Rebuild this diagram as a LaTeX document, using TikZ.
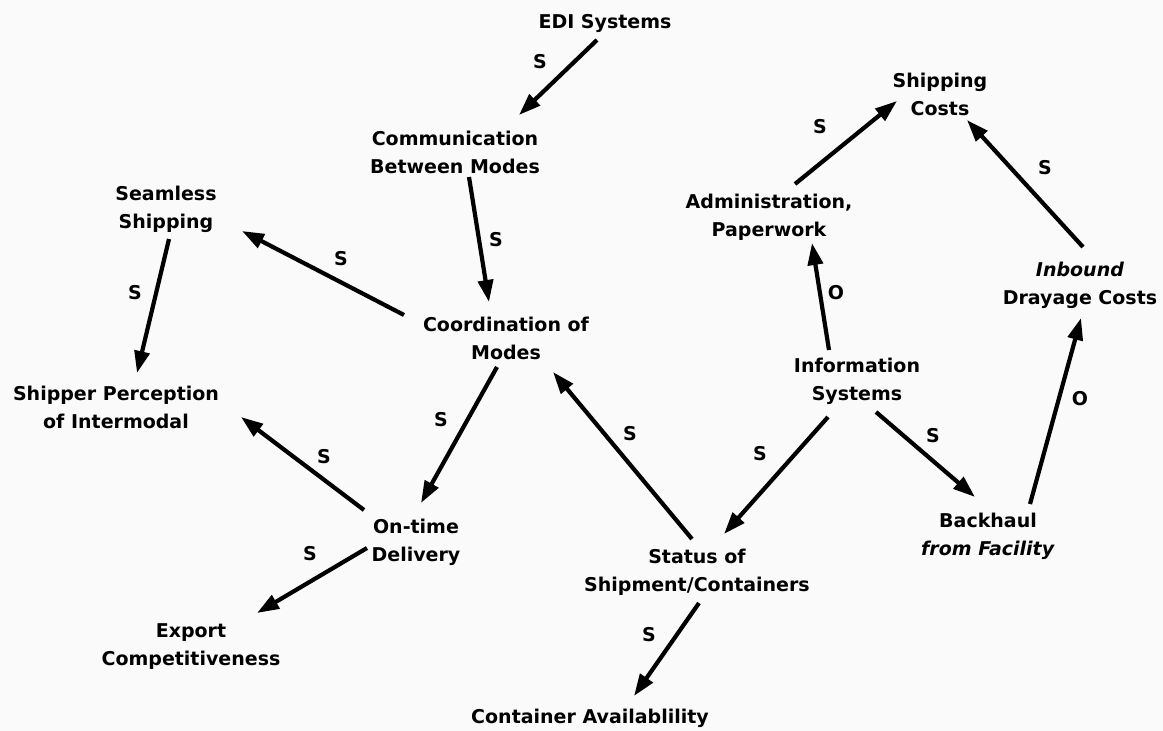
\documentclass[tikz,border=0pt]{standalone}
\usepackage{fontspec}
\setmainfont{DejaVu Sans}
\usetikzlibrary{arrows.meta}
\begin{document}
\begin{tikzpicture}[x=1pt,y=-1pt,
  concept/.style={font=\bfseries\fontsize{19}{28}\selectfont, align=center, inner sep=0pt},
  sign/.style={font=\bfseries\fontsize{19}{22}\selectfont, inner sep=0pt},
  link/.style={line width=4.2pt, -{Triangle[length=22pt,width=15pt]}}]
% page
\fill[black!2] (0,0) rectangle (1163,731);
\useasboundingbox (0,0) rectangle (1163,731);

% concepts
\node[concept] (edi)    at (605,23)  {EDI Systems};
\node[concept] (comm)   at (455,152) {Communication\\Between Modes};
\node[concept] (seam)   at (166,209) {Seamless\\Shipping};
\node[concept] (coord)  at (506,338) {Coordination of\\Modes};
\node[concept] (ship)   at (116,407) {Shipper Perception\\of Intermodal};
\node[concept] (ontime) at (416,542) {On-time\\Delivery};
\node[concept] (export) at (191,647) {Export\\Competitiveness};
\node[concept] (cont)   at (590,718) {Container Availablility};
\node[concept] (status) at (697,572) {Status of\\Shipment/Containers};
\node[concept] (info)   at (857,381) {Information\\Systems};
\node[concept] (back)   at (988,536) {Backhaul\\\textit{from Facility}};
\node[concept] (inb)    at (1080,285) {\textit{Inbound}\\Drayage Costs};
\node[concept] (scost)  at (940,94)  {Shipping\\Costs};
\node[concept] (admin)  at (769,217) {Administration,\\Paperwork};

% influences
\draw[link] ([shift={(-8,17)}]edi.center)     -- ([shift={(64,-37)}]comm.center);
\draw[link] ([shift={(14,25)}]comm.center)    -- ([shift={(-17,-36)}]coord.center);
\draw[link] ([shift={(-102,-23)}]coord.center) -- ([shift={(76,22)}]seam.center);
\draw[link] ([shift={(3,30)}]seam.center)     -- ([shift={(21,-34)}]ship.center);
\draw[link] ([shift={(-9,29)}]coord.center)   -- ([shift={(5,-39)}]ontime.center);
\draw[link] ([shift={(-52,-32)}]ontime.center) -- ([shift={(125,10)}]ship.center);
\draw[link] ([shift={(-49,6)}]ontime.center)  -- ([shift={(66,-34)}]export.center);
\draw[link] ([shift={(-5,-33)}]status.center) -- ([shift={(47,34)}]coord.center);
\draw[link] ([shift={(-29,36)}]info.center)   -- ([shift={(27,-38)}]status.center);
\draw[link] ([shift={(2,31)}]status.center)   -- ([shift={(44,-22)}]cont.center);
\draw[link] ([shift={(-28,-31)}]info.center)  -- ([shift={(43,26)}]admin.center);
\draw[link] ([shift={(26,-33)}]admin.center)  -- ([shift={(-43,7)}]scost.center);
\draw[link] ([shift={(3,-38)}]inb.center)     -- ([shift={(27,26)}]scost.center);
\draw[link] ([shift={(19,31)}]info.center)    -- ([shift={(-13,-39)}]back.center);
\draw[link] ([shift={(42,-32)}]back.center)   -- ([shift={(1,33)}]inb.center);

% signs
\node[sign] (s1)  at (540,62)  {S};
\node[sign] (s2)  at (496,240) {S};
\node[sign] (s3)  at (341,259) {S};
\node[sign] (s4)  at (135,293) {S};
\node[sign] (s5)  at (441,420) {S};
\node[sign] (s6)  at (324,457) {S};
\node[sign] (s7)  at (310,554) {S};
\node[sign] (s8)  at (630,434) {S};
\node[sign] (s9)  at (760,454) {S};
\node[sign] (s10) at (649,635) {S};
\node[sign] (s11) at (836,293) {O};
\node[sign] (s12) at (820,127) {S};
\node[sign] (s13) at (1045,168) {S};
\node[sign] (s14) at (933,436) {S};
\node[sign] (s15) at (1080,399) {O};
\end{tikzpicture}
\end{document}
